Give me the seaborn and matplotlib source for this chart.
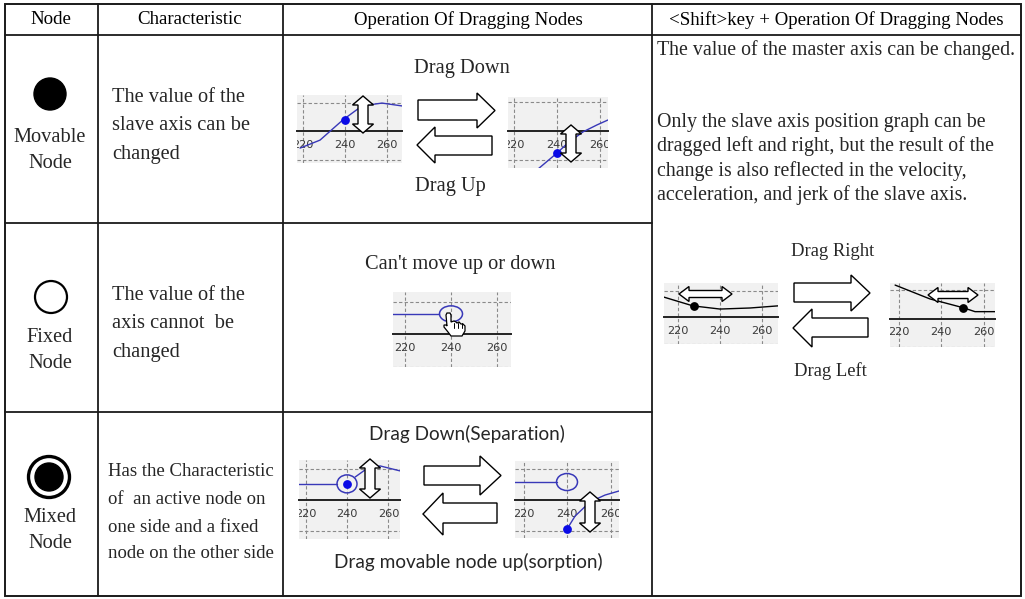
import numpy as np
import pandas as pd
import seaborn as sns
import matplotlib
matplotlib.use("Agg")
import matplotlib.pyplot as plt
from matplotlib.patches import Polygon, Circle, Ellipse, Rectangle

# ---------------- data ----------------
headers = ["Node", "Characteristic", "Operation Of Dragging Nodes",
           "<Shift>key + Operation Of Dragging Nodes"]
node_names = [["Movable", "Node"], ["Fixed", "Node"], ["Mixed", "Node"]]
characteristics = [
    ["The value of the", "slave axis can be", "changed"],
    ["The value of the", "axis cannot  be", "changed"],
    ["Has the Characteristic", "of  an active node on", "one side and a fixed",
     "node on the other side"],
]
shift_text = ["Only the slave axis position graph can be",
              "dragged left and right, but the result of the",
              "change is also reflected in the velocity,",
              "acceleration, and jerk of the slave axis."]
shift_first = "The value of the master axis can be changed."
tick_values = [220, 240, 260]
minor_ticks = [230, 250]

# curves of the small graphs (x = master position, y = grid units)
c1_x = [218.6, 228.1, 239.0, 248.1, 257.6, 267.1]
c1_y = [-0.60, -0.32, 0.39, 0.88, 0.98, 0.88]
c2_x = [230.7, 240.0, 245.1, 252.1, 258.6, 263.7]
c2_y = [-1.34, -0.76, -0.41, -0.03, 0.21, 0.38]
c3_x = [210.0, 234.8]
c3_y = [0.62, 0.62]
c4a_x = [210.0, 235.2]
c4a_y = [0.52, 0.52]
c4b_x = [243.9, 248.7, 255.9, 265.5]
c4b_y = [0.74, 0.97, 1.10, 0.94]
c5a_x = [210.0, 235.4]
c5a_y = [0.58, 0.58]
c5b_x = [240.0, 243.7, 250.6, 257.5, 263.9]
c5b_y = [-0.94, -0.52, -0.06, 0.16, 0.29]
c6_x = [213.3, 227.1, 240.0, 254.3, 267.6]
c6_y = [0.75, 0.42, 0.30, 0.34, 0.42]
c7_x = [218.4, 234.8, 250.4, 256.0, 265.4]
c7_y = [1.19, 0.70, 0.39, 0.25, 0.25]
nodes_xy = {"c1": (240.0, 0.39), "c2": (240.0, -0.76), "c3": (240.0, 0.62),
            "c4": (240.0, 0.52), "c5o": (240.0, 0.58), "c5": (240.0, -0.94),
            "c6": (227.5, 0.42), "c7": (250.4, 0.39)}

# ---------------- figure ----------------
sns.set_theme(style="white")
plt.rcParams["font.family"] = ["Liberation Serif", "DejaVu Serif"]
W, H = 1025, 599
fig = plt.figure(figsize=(W / 100, H / 100), dpi=100)
base = fig.add_axes([0, 0, 1, 1])
base.set_xlim(0, W)
base.set_ylim(H, 0)
base.axis("off")

LC = "#1a1a1a"
# table grid
base.add_patch(Rectangle((5, 4), 1016, 592, fill=False, ec=LC, lw=1.4))
base.plot([5, 1021], [35, 35], color=LC, lw=1.3)
for x in [98, 283, 652]:
    base.plot([x, x], [4, 596], color=LC, lw=1.3)
for y in [223, 412]:
    base.plot([5, 652], [y, y], color=LC, lw=1.3)

HS = 13.6
hx = [51, 190, 468, 836]
for t, x in zip(headers, hx):
    base.text(x, 20, t, ha="center", va="center", fontsize=HS, color="black")

BS = 14.7
# node symbols
base.add_patch(Circle((50, 94), 16, color="black"))
base.add_patch(Circle((51, 297), 16, fill=False, ec="black", lw=1.6))
base.add_patch(Circle((49, 477), 20.5, fill=False, ec="black", lw=2.4))
base.add_patch(Circle((49, 477), 14, color="black"))
name_y = [(138, 163), (338, 363), (517, 543)]
for names, ys in zip(node_names, name_y):
    for n, y in zip(names, ys):
        base.text(50, y, n, ha="center", va="center", fontsize=BS)

char_pos = [(112, [97, 126, 154], BS), (112, [295, 324, 352], BS),
            (108, [471, 499, 527, 554], 13.5)]
for lines, (x, ys, fs) in zip(characteristics, char_pos):
    for l, y in zip(lines, ys):
        base.text(x, y, l, ha="left", va="center", fontsize=fs)

# column 3 captions
base.text(462, 68, "Drag Down", ha="center", va="center", fontsize=BS)
base.text(450, 187, "Drag Up", ha="center", va="center", fontsize=BS)
base.text(460, 264, "Can't move up or down", ha="center", va="center", fontsize=BS)
SANS = ["Lato", "DejaVu Sans"]
base.text(467, 434, "Drag Down(Separation)", ha="center", va="center",
          fontsize=13.7, family=SANS)
base.text(468, 562, "Drag movable node up(sorption)", ha="center", va="center",
          fontsize=13.7, family=SANS)

# column 4
RS = 14.3
base.text(657, 50, shift_first, ha="left", va="center", fontsize=RS)
for l, y in zip(shift_text, [122, 146.5, 171, 195]):
    base.text(657, y, l, ha="left", va="center", fontsize=RS)
base.text(833, 251, "Drag Right", ha="center", va="center", fontsize=13.4)
base.text(830, 371, "Drag Left", ha="center", va="center", fontsize=13.4)


# ---------------- mini graphs ----------------
def mini(box, px240, px20, axis_y, gsp):
    x0, y0, x1, y1 = box
    ax = fig.add_axes([x0 / W, 1 - y1 / H, (x1 - x0) / W, (y1 - y0) / H])
    ppx = px20 / 20.0
    ax.set_xlim(240 + (x0 - px240) / ppx, 240 + (x1 - px240) / ppx)
    ax.set_ylim((axis_y - y1) / gsp, (axis_y - y0) / gsp)
    ax.set_facecolor("#f1f1f1")
    for s in ["top", "right", "left"]:
        ax.spines[s].set_visible(False)
    ax.spines["bottom"].set_position(("data", 0))
    ax.spines["bottom"].set_color("#222")
    ax.spines["bottom"].set_linewidth(1.4)
    ax.spines["bottom"].set_zorder(1)
    ax.set_xticks(tick_values)
    ax.set_xticklabels([str(t) for t in tick_values], fontfamily="DejaVu Sans")
    ax.set_xticks(minor_ticks, minor=True)
    ax.set_yticks([-1, 1])
    ax.tick_params(axis="y", left=False, labelleft=False)
    ax.tick_params(axis="x", which="major", direction="out", length=4, width=1.2,
                   colors="#222", labelsize=8.2, pad=2.2, labelcolor="#3a3a3a")
    ax.tick_params(axis="x", which="minor", direction="in", length=3, width=1, colors="#222")
    ax.grid(True, which="major", ls=(0, (3, 2)), color="#8a8a8a", lw=0.8)
    ax.set_axisbelow(True)
    ax.set_xlabel("")
    ax.set_ylabel("")
    for t in ax.xaxis.get_major_ticks():
        t.label1.set_clip_box(ax.bbox)
        t.label1.set_clip_on(True)
    return ax, ppx, gsp


BLUE = "#3838b8"
DOT = "#0a0ae6"


def curve(ax, xs, ys, color):
    df = pd.DataFrame({"x": xs, "y": ys})
    sns.lineplot(data=df, x="x", y="y", ax=ax, color=color, lw=1.0, sort=False,
                 estimator=None)
    ax.set_xlabel("")
    ax.set_ylabel("")


def dot(ax, key, color):
    x, y = nodes_xy[key]
    ax.scatter([x], [y], s=40, color=color, zorder=5, lw=0)


def ring(ax, key, wpx, hpx, ppx, gsp):
    x, y = nodes_xy[key]
    ax.add_patch(Ellipse((x, y), wpx / ppx, hpx / gsp, fill=False, ec=BLUE, lw=1.1, zorder=4))


a1, p1, g1 = mini((297, 95, 402, 163), 345, 42, 131, 28.5)
curve(a1, c1_x, c1_y, BLUE); dot(a1, "c1", DOT)
a2, p2, g2 = mini((508, 97, 608, 168), 557, 43, 131, 29)
curve(a2, c2_x, c2_y, BLUE); dot(a2, "c2", DOT)
a3, p3, g3 = mini((393, 292, 511, 367), 451, 46, 334, 32.5)
curve(a3, c3_x, c3_y, BLUE); ring(a3, "c3", 23, 16, p3, g3)
a4, p4, g4 = mini((299, 460, 400, 539), 347, 41.5, 500, 31)
curve(a4, c4a_x, c4a_y, BLUE); curve(a4, c4b_x, c4b_y, BLUE)
ring(a4, "c4", 20, 18, p4, g4); dot(a4, "c4", DOT)
a5, p5, g5 = mini((515, 461, 619, 538), 567, 43.5, 500, 31)
curve(a5, c5a_x, c5a_y, BLUE); curve(a5, c5b_x, c5b_y, BLUE)
ring(a5, "c5o", 21, 17, p5, g5); dot(a5, "c5", DOT)
a6, p6, g6 = mini((664, 283, 778, 344), 720, 42, 317, 26.5)
curve(a6, c6_x, c6_y, "black"); dot(a6, "c6", "black")
a7, p7, g7 = mini((890, 283, 995, 347), 941, 42.5, 319, 28.5)
curve(a7, c7_x, c7_y, "black"); dot(a7, "c7", "black")

# ---------------- overlay arrows ----------------
ov = fig.add_axes([0, 0, 1, 1], zorder=10)
ov.set_xlim(0, W)
ov.set_ylim(H, 0)
ov.axis("off")
ov.patch.set_alpha(0)


def poly(pts, lw=1.0):
    ov.add_patch(Polygon(pts, closed=True, fc="white", ec="black", lw=lw, joinstyle="miter"))


def block_right(x0, x1, hx, yt, yb, st, sb):
    yc = (yt + yb) / 2
    poly([(x0, st), (hx, st), (hx, yt), (x1, yc), (hx, yb), (hx, sb), (x0, sb)])


def block_left(x0, x1, hx, yt, yb, st, sb):
    yc = (yt + yb) / 2
    poly([(x1, st), (hx, st), (hx, yt), (x0, yc), (hx, yb), (hx, sb), (x1, sb)])


def dbl_v(xc, y0, y1, hw=10.5, sw=5, hl=9):
    poly([(xc, y0), (xc + hw, y0 + hl), (xc + sw, y0 + hl), (xc + sw, y1 - hl),
          (xc + hw, y1 - hl), (xc, y1), (xc - hw, y1 - hl), (xc - sw, y1 - hl),
          (xc - sw, y0 + hl), (xc - hw, y0 + hl)])


def dbl_h(x0, x1, yc, hh=7.5, sh=3.5, hl=10):
    poly([(x0, yc), (x0 + hl, yc - hh), (x0 + hl, yc - sh), (x1 - hl, yc - sh),
          (x1 - hl, yc - hh), (x1, yc), (x1 - hl, yc + hh), (x1 - hl, yc + sh),
          (x0 + hl, yc + sh), (x0 + hl, yc + hh)])


block_right(418, 495, 477, 93, 128, 100, 120)
block_left(417, 492, 435, 127, 163, 136, 155)
block_right(424, 501, 480, 456, 495, 466, 485)
block_left(423, 497, 443, 493, 535, 503, 523)
block_right(794, 870, 851, 275, 311, 283, 302)
block_left(793, 868, 812, 309, 347, 318, 337)

dbl_v(363, 96, 133)
dbl_v(571, 125, 162)
dbl_v(370, 459, 498)
dbl_v(590, 492, 532)
dbl_h(679, 732, 294)
dbl_h(928, 978, 295)

# hand cursor
hand = [(447, 313), (450, 313), (451, 315), (451, 322), (454, 321), (456, 322),
        (457, 323), (459, 322), (461, 324), (463, 324), (465, 326), (465, 331),
        (462, 336), (451, 336), (448, 332), (444, 327), (444, 325), (446, 325),
        (447, 326), (446, 315)]
poly(hand, lw=0.9)
for x in [454, 458, 462]:
    ov.plot([x - 0.5, x - 0.5], [323, 328], color="black", lw=0.7)

fig.savefig("out.png", dpi=100)
